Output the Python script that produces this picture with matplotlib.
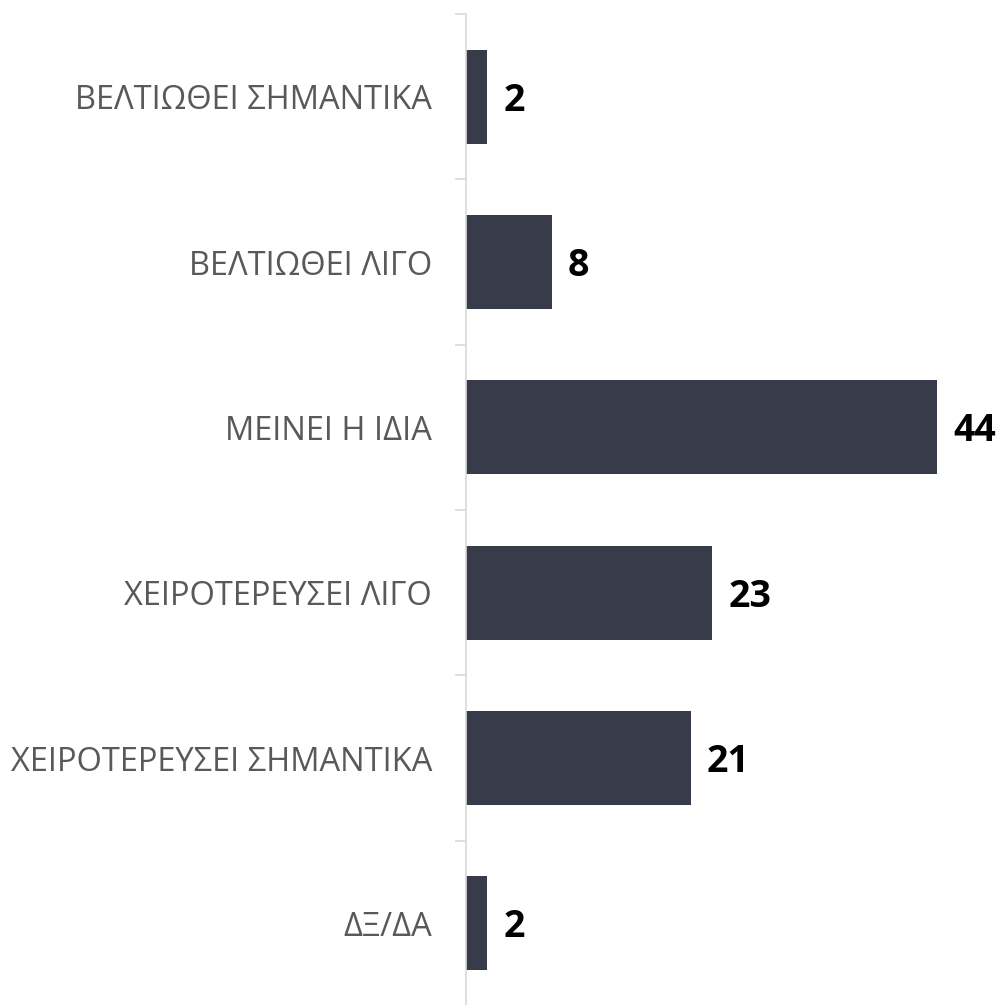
import matplotlib
matplotlib.use("Agg")
import matplotlib.pyplot as plt
from matplotlib.ticker import FixedLocator

# Δεδομένα
categories = ["ΒΕΛΤΙΩΘΕΙ ΣΗΜΑΝΤΙΚΑ", "ΒΕΛΤΙΩΘΕΙ ΛΙΓΟ", "ΜΕΙΝΕΙ Η ΙΔΙΑ",
              "ΧΕΙΡΟΤΕΡΕΥΣΕΙ ΛΙΓΟ", "ΧΕΙΡΟΤΕΡΕΥΣΕΙ ΣΗΜΑΝΤΙΚΑ", "ΔΞ/ΔΑ"]
values = [2, 8, 44, 23, 21, 2]

bar_color = "#383B4A"
label_color = "#595959"
font = ["Open Sans", "DejaVu Sans"]

fig = plt.figure(figsize=(9.98, 10.05), dpi=100)
ax = fig.add_axes([466 / 998, 1 - 1006 / 1005, 1 - 466 / 998, 992 / 1005])

ypos = list(range(len(categories)))
bars = ax.barh(ypos, values, height=0.57, color=bar_color)

ax.set_xlim(0, 49.7)
ax.set_ylim(len(categories) - 0.5, -0.5)

# Ετικέτες τιμών δίπλα στις μπάρες
for b, v in zip(bars, values):
    ax.annotate(str(v), (b.get_width(), b.get_y() + b.get_height() / 2),
                xytext=(16, -4), textcoords="offset pixels",
                va="center", ha="left", fontsize=27, fontweight="bold",
                color="black", family=font)

ax.set_yticks(ypos)
ax.set_yticklabels(categories, fontsize=23.5, color=label_color, family=font)
ax.tick_params(axis="y", which="major", length=0, pad=24.5)
ax.yaxis.set_minor_locator(FixedLocator([i - 0.5 for i in range(len(categories) + 1)]))
ax.tick_params(axis="y", which="minor", length=8, width=1.2, color="#D9D9D9")
for t in ax.get_yticklabels():
    t.set_y(t.get_position()[1])

ax.set_xticks([])
for s in ["top", "right", "bottom"]:
    ax.spines[s].set_visible(False)
ax.spines["left"].set_color("#D9D9D9")
ax.spines["left"].set_linewidth(1.2)

fig.savefig("out.png", dpi=100)
